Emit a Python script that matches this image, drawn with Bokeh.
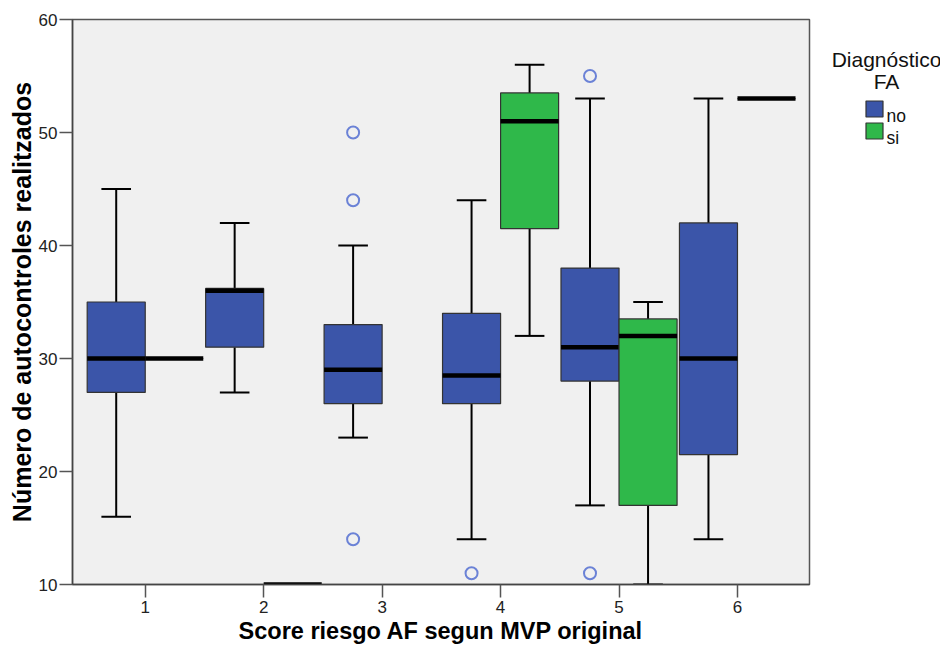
from bokeh.plotting import figure
from bokeh.layouts import row
from bokeh.models import ColumnDataSource, FixedTicker, Label, Range1d
from bokeh.core.properties import value
from bokeh.embed import file_html
from bokeh.resources import INLINE

# ---- data ----
categories = [1, 2, 3, 4, 5, 6]
tick_labels = ["1", "2", "3", "4", "5", "6"]

# group "no"
no_cats = [1, 2, 3, 4, 5, 6]
no_lo = [16, 27, 23, 14, 17, 14]
no_q1 = [27, 31, 26, 26, 28, 21.5]
no_med = [30, 36, 29, 28.5, 31, 30]
no_q3 = [35, 36.2, 33, 34, 38, 42]
no_hi = [45, 42, 40, 44, 53, 53]
no_out_cat = [3, 3, 3, 4, 5, 5]
no_out_val = [50, 44, 14, 11, 55, 11]

# group "si"
si_cats = [1, 2, 4, 5, 6]
si_lo = [30, 10, 32, 10, 53]
si_q1 = [30, 10, 41.5, 17, 53]
si_med = [30, 10, 51, 32, 53]
si_q3 = [30, 10, 53.5, 33.5, 53]
si_hi = [30, 10, 56, 35, 53]

group_names = ["no", "si"]
legend_title = ["Diagnóstico", "FA"]

BLUE = "#3b55a9"
GREEN = "#2fb84a"
group_colors = [BLUE, GREEN]
BOX_W = 0.49
CAP_W = 0.25
OFFSET = 0.245
FRAME_H = 565

p = figure(frame_width=737, frame_height=FRAME_H,
           x_range=Range1d(0.386, 6.608), y_range=Range1d(10, 60),
           output_backend="svg", toolbar_location=None,
           min_border_left=72, min_border_top=19, min_border_right=6,
           min_border_bottom=0)

p.background_fill_color = "#f0f0f0"
p.border_fill_color = "white"
p.outline_line_color = "#555555"
p.outline_line_width = 1.5
p.grid.visible = False


def make_source(cats, lo, q1, med, q3, hi, shift):
    xs = [c + shift for c in cats]
    return ColumnDataSource(dict(
        x=xs, lo=lo, q1=q1, med=med, q3=q3, hi=hi,
        x0=[x - BOX_W / 2 for x in xs], x1=[x + BOX_W / 2 for x in xs],
        c0=[x - CAP_W / 2 for x in xs], c1=[x + CAP_W / 2 for x in xs],
    ))


for name, cats, lo, q1, med, q3, hi, shift, color in [
    ("no", no_cats, no_lo, no_q1, no_med, no_q3, no_hi, -OFFSET, BLUE),
    ("si", si_cats, si_lo, si_q1, si_med, si_q3, si_hi, OFFSET, GREEN),
]:
    src = make_source(cats, lo, q1, med, q3, hi, shift)
    p.segment(x0="x", y0="q3", x1="x", y1="hi", source=src, line_color="black", line_width=2)
    p.segment(x0="x", y0="q1", x1="x", y1="lo", source=src, line_color="black", line_width=2)
    p.segment(x0="c0", y0="hi", x1="c1", y1="hi", source=src, line_color="black", line_width=2)
    p.segment(x0="c0", y0="lo", x1="c1", y1="lo", source=src, line_color="black", line_width=2)
    p.vbar(x="x", width=BOX_W, bottom="q1", top="q3", source=src,
           fill_color=color, line_color="#333333", line_width=1.2)
    p.segment(x0="x0", y0="med", x1="x1", y1="med", source=src,
              line_color="black", line_width=4.5, line_cap="butt")

out_src = ColumnDataSource(dict(x=[c - OFFSET for c in no_out_cat], y=no_out_val))
p.scatter(x="x", y="y", source=out_src, marker="circle", size=12,
          fill_alpha=0, line_color="#6b82d6", line_width=2)

p.xaxis.ticker = FixedTicker(ticks=categories)
p.xaxis.major_label_overrides = {c: t for c, t in zip(categories, tick_labels)}
p.yaxis.ticker = FixedTicker(ticks=[10, 20, 30, 40, 50, 60])
for ax in (p.xaxis[0], p.yaxis[0]):
    ax.minor_tick_line_color = None
    ax.major_tick_in = 0
    ax.major_tick_out = 13
    ax.major_tick_line_color = "#555555"
    ax.major_tick_line_width = 1.5
    ax.axis_line_color = "#444444"
    ax.axis_line_width = 1.5
    ax.major_label_text_font = "Liberation Sans"
    ax.major_label_text_font_size = "17px"
    ax.major_label_text_color = "#222222"
    ax.axis_label_text_font = "Liberation Sans"
    ax.axis_label_text_font_style = "bold"
    ax.axis_label_text_color = "black"

p.xaxis.major_label_standoff = 3
p.yaxis.major_label_standoff = 2
p.xaxis.axis_label = "Score riesgo AF segun MVP original"
p.xaxis.axis_label_text_font_size = "23.5px"
p.xaxis.axis_label_standoff = 2
p.yaxis.axis_label = "Número de autocontroles realitzados"
p.yaxis.axis_label_text_font_size = "25px"
p.yaxis.axis_label_standoff = 0

# ---- legend panel: a small figure to the right, its frame aligned with p's frame ----
# q's data units are pixels measured from the bottom of its frame
q = figure(frame_width=125, frame_height=FRAME_H, title=None,
           x_range=Range1d(0, 125), y_range=Range1d(0, FRAME_H),
           x_axis_type=None, y_axis_type=None,
           output_backend="svg", toolbar_location=None,
           min_border=0)
q.outline_line_color = None
q.grid.visible = False
q.background_fill_color = "white"
q.border_fill_color = "white"

sw_src = ColumnDataSource(dict(
    x=[59, 59], y=[475.5, 453.5], color=group_colors, label=group_names,
    tx=[71, 71], ty=[469, 447],
))
q.rect(x="x", y="y", width=17, height=16, source=sw_src,
       fill_color="color", line_color="#333333", line_width=1.2)
q.text(x="tx", y="ty", text="label", source=sw_src,
       text_font=value("Liberation Sans"), text_font_size=value("17.5px"),
       text_color="#111111", text_align="left", text_baseline="alphabetic")

for txt, yy in zip(legend_title, [525, 503]):
    q.add_layout(Label(x=71, y=yy, x_units="screen", y_units="screen", text=txt,
                       text_align="center", text_baseline="alphabetic",
                       text_font="Liberation Sans", text_font_size="21px",
                       text_color="#111111"))

layout = row(p, q)
open("out.html", "w").write(file_html(layout, INLINE))
